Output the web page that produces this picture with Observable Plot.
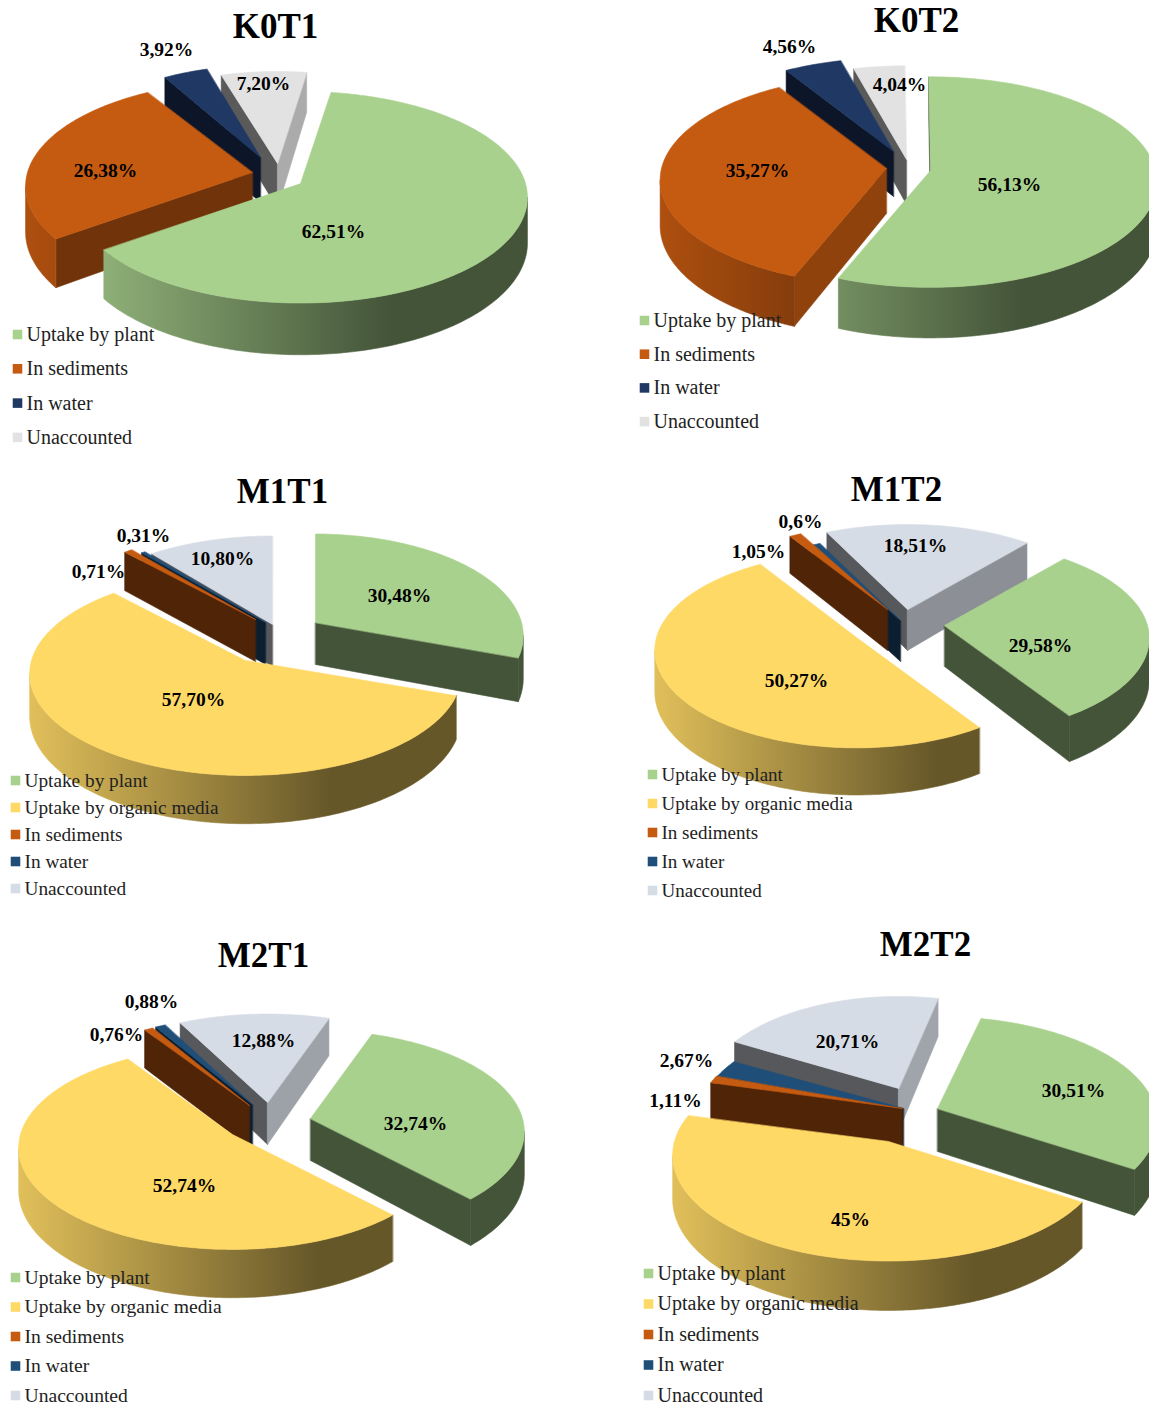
<!DOCTYPE html>
<html>
<head>
<meta charset="utf-8">
<title>Fate of the nutrient load by treatment</title>
<script src="https://cdn.jsdelivr.net/npm/d3@7"></script>
<script src="https://cdn.jsdelivr.net/npm/@observablehq/plot@0.6"></script>
<style>
  html, body { margin: 0; padding: 0; background: #fff; }
  svg { display: block; }
</style>
</head>
<body>
<div id="chart"></div>
<script>
// Categories and their top-face colours.
const categoriesK = ["Uptake by plant", "In sediments", "In water", "Unaccounted"];
const categoriesM = ["Uptake by plant", "Uptake by organic media", "In sediments", "In water", "Unaccounted"];
const coloursK = ["#a9d18e", "#c55a11", "#1f3864", "#e2e2e2"];
const coloursM = ["#a9d18e", "#ffd966", "#c55a11", "#1f4e79", "#d6dce5"];

// Shares in percent, one list per treatment, with the labels as printed.
const k0t1Values = [62.51, 26.38, 3.92, 7.20];
const k0t1Labels = ["62,51%", "26,38%", "3,92%", "7,20%"];
const k0t2Values = [56.13, 35.27, 4.56, 4.04];
const k0t2Labels = ["56,13%", "35,27%", "4,56%", "4,04%"];
const m1t1Values = [30.48, 57.70, 0.71, 0.31, 10.80];
const m1t1Labels = ["30,48%", "57,70%", "0,71%", "0,31%", "10,80%"];
const m1t2Values = [29.58, 50.27, 1.05, 0.6, 18.51];
const m1t2Labels = ["29,58%", "50,27%", "1,05%", "0,6%", "18,51%"];
const m2t1Values = [32.74, 52.74, 0.76, 0.88, 12.88];
const m2t1Labels = ["32,74%", "52,74%", "0,76%", "0,88%", "12,88%"];
const m2t2Values = [30.51, 45, 1.11, 2.67, 20.71];
const m2t2Labels = ["30,51%", "45%", "1,11%", "2,67%", "20,71%"];

// Panel layout: pie geometry, exploded slice apexes, label anchors, legend block.
const panels = [
  { title: "K0T1", titleAt: [275, 26], categories: categoriesK, colours: coloursK, values: k0t1Values, labels: k0t1Labels,
    startAngle: 8.8, rx: 225, ry: 104, tilt: 0.13, depth: 45,
    sliceRx: [225, 225, 205, 215],
    apex: [[300, 183], [252, 172], [260, 157], [277, 163]],
    labelAt: [[333, 231], [105, 170], [166, 49], [263, 83]],
    order: [3, 2, 1, 0], legend: { x: 17, y: 334, step: 34.3, size: 20 } },
  { title: "K0T2", titleAt: [916, 20], categories: categoriesK, colours: coloursK, values: k0t2Values, labels: k0t2Labels,
    startAngle: -0.5, rx: 225, ry: 104, tilt: 0.11, depth: 45,
    apex: [[930, 170], [886, 168], [893, 151], [906, 159]],
    labelAt: [[1009, 184], [757, 170], [789, 46], [899, 84]],
    order: [3, 2, 1, 0], legend: { x: 644, y: 320, step: 33.7, size: 20 } },
  { title: "M1T1", titleAt: [282, 491], categories: categoriesM, colours: coloursM, values: m1t1Values, labels: m1t1Labels,
    startAngle: 0, rx: 212, ry: 100, tilt: 0.13, depth: 42,
    sliceRx: [206, 214, 212, 212, 212],
    apex: [[315, 622], [245, 660], [255, 619], [265, 622], [272, 624]],
    labelAt: [[399, 595], [193, 699], [98, 571], [143, 535], [222, 558]],
    order: [4, 3, 2, 0, 1], legend: { x: 15, y: 780, step: 27, size: 19.3 } },
  { title: "M1T2", titleAt: [896, 489], categories: categoriesM, colours: coloursM, values: m1t2Values, labels: m1t2Labels,
    startAngle: 40.3, rx: 203, ry: 96, tilt: 0.13, depth: 41,
    sliceRx: [203, 200, 203, 203, 203],
    apex: [[944, 625], [856, 637], [887, 609], [900, 620], [907, 609]],
    labelAt: [[1040, 645], [796, 680], [758, 551], [800, 521], [915, 545]],
    order: [4, 3, 2, 0, 1], legend: { x: 652, y: 774, step: 29, size: 19 } },
  { title: "M2T1", titleAt: [263, 955], categories: categoriesM, colours: coloursM, values: m2t1Values, labels: m2t1Labels,
    startAngle: 19, rx: 212, ry: 100, tilt: 0.13, depth: 42,
    apex: [[310, 1118], [232, 1134], [249, 1105], [252, 1104], [267, 1102]],
    labelAt: [[415, 1123], [184, 1185], [116, 1034], [151, 1001], [263, 1040]],
    order: [4, 3, 2, 0, 1], legend: { x: 15, y: 1277, step: 29.5, size: 19.6 } },
  { title: "M2T2", titleAt: [925, 944], categories: categoriesM, colours: coloursM, values: m2t2Values, labels: m2t2Labels,
    startAngle: 13, rx: 218, ry: 104, tilt: 0.13, depth: 43,
    sliceRx: [218, 214, 205, 205, 198],
    apex: [[937, 1108], [888, 1141], [902, 1108], [903, 1108], [898, 1088]],
    labelAt: [[1073, 1090], [850, 1219], [675, 1100], [686, 1060], [847, 1041]],
    order: [4, 3, 2, 0, 1], legend: { x: 648, y: 1273, step: 30.5, size: 20 } }
];

const radians = d => d * Math.PI / 180;
const scaleColour = (hex, f) => {
  const c = d3.rgb(hex);
  return d3.rgb(c.r * f, c.g * f, c.b * f).formatHex();
};
// Flat radial walls get lighter the more they turn to the right.
const radialShade = nx => nx < 0.2 ? 0.4 : 0.4 + (nx - 0.2) * 0.45;

// Every slice becomes filled polygons, painted back to front.
const facets = [];
const rimGradients = [];
let pieceId = 0;
function addFacet(points, colour) {
  const piece = pieceId++;
  for (const [x, y] of points) facets.push({ x, y, piece, colour });
}

for (const p of panels) {
  const total = d3.sum(p.values);
  const angles = [];
  let a = p.startAngle;
  for (const v of p.values) {
    angles.push([a, a + v / total * 360]);
    a += v / total * 360;
  }
  for (const i of p.order) {
    const [a0, a1] = angles[i];
    const [ax, ay] = p.apex[i];
    const rx = p.sliceRx ? p.sliceRx[i] : p.rx;
    const rim = deg => {
      const t = radians(deg), s = 1 / (1 + p.tilt * Math.cos(t));
      return [ax + rx * Math.sin(t) * s, ay - p.ry * Math.cos(t) * s, p.depth * s];
    };
    const top = p.colours[i];
    // A radial wall is drawn only when it faces the viewer.
    const wall = (deg, sign) => {
      const t = radians(deg);
      if (sign * Math.sin(t) <= 0) return;
      const [x, y, d] = rim(deg);
      addFacet([[ax, ay], [x, y], [x, y + d], [ax, ay + p.depth]], scaleColour(top, radialShade(sign * Math.cos(t))));
    };
    wall(a0, -1);
    wall(a1, 1);
    // Curved outer wall: only the arc that faces the viewer, shaded left to right.
    const horizon = Math.acos(-p.tilt) * 180 / Math.PI;
    const from = Math.max(a0, horizon), to = Math.min(a1, 360 - horizon);
    if (from < to) {
      const id = `rim-${p.title}-${i}`;
      rimGradients.push({ id, x1: ax - rx, x2: ax + 0.4 * rx, light: scaleColour(top, 0.88), dark: scaleColour(top, 0.4) });
      const edge = [];
      for (let deg = from; deg < to; deg += 1) edge.push(rim(deg));
      edge.push(rim(to));
      addFacet([...edge.map(([x, y]) => [x, y]), ...edge.reverse().map(([x, y, d]) => [x, y + d])], `url(#${id})`);
    }
    // Top face.
    const face = [[ax, ay]];
    for (let deg = a0; deg < a1; deg += 1) face.push(rim(deg).slice(0, 2));
    face.push(rim(a1).slice(0, 2));
    addFacet(face, top);
  }
}

const sliceLabels = panels.flatMap(p => p.labels.map((text, i) => ({ text, x: p.labelAt[i][0], y: p.labelAt[i][1] })));
const titles = panels.map(p => ({ text: p.title, x: p.titleAt[0], y: p.titleAt[1] }));
const legendRows = panels.flatMap(p => p.categories.map((text, i) => ({
  text, colour: p.colours[i], size: p.legend.size,
  x: p.legend.x, y: p.legend.y + i * p.legend.step
})));

const serif = "Liberation Serif";
const chart = Plot.plot({
  width: 1149,
  height: 1405,
  margin: 0,
  style: { background: "#fff" },
  x: { domain: [0, 1149], range: [0, 1149], axis: null },
  y: { domain: [0, 1405], range: [0, 1405], axis: null },
  color: { type: "identity" },
  marks: [
    Plot.line(facets, { x: "x", y: "y", z: "piece", fill: "colour", stroke: "colour", strokeWidth: 0.6, curve: "linear-closed" }),
    Plot.text(titles, { x: "x", y: "y", text: "text", fontFamily: serif, fontWeight: "bold", fontSize: 35, fill: "#000" }),
    Plot.text(sliceLabels, { x: "x", y: "y", text: "text", fontFamily: serif, fontWeight: "bold", fontSize: 19.5, fill: "#000" }),
    Plot.dot(legendRows, { x: "x", y: "y", symbol: "square", r: 5.4, fill: "colour" }),
    ...d3.groups(legendRows, d => d.size).map(([size, rows]) =>
      Plot.text(rows, { x: "x", y: "y", dx: 9, text: "text", textAnchor: "start", fontFamily: serif, fontSize: size, fill: "#222" }))
  ]
});

// Horizontal gradients for the curved walls, in chart coordinates.
const defs = d3.select(chart).insert("defs", ":first-child");
for (const g of rimGradients) {
  const grad = defs.append("linearGradient")
    .attr("id", g.id)
    .attr("gradientUnits", "userSpaceOnUse")
    .attr("x1", g.x1).attr("x2", g.x2).attr("y1", 0).attr("y2", 0);
  grad.append("stop").attr("offset", 0).attr("stop-color", g.light);
  grad.append("stop").attr("offset", 1).attr("stop-color", g.dark);
}
document.getElementById("chart").appendChild(chart);
</script>
</body>
</html>
